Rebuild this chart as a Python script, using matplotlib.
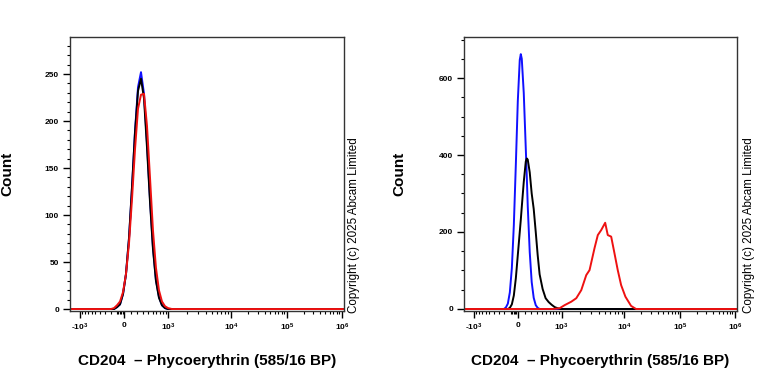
import numpy as np
import matplotlib
matplotlib.use("Agg")
import matplotlib.pyplot as plt
from matplotlib.ticker import FixedLocator, MultipleLocator

plt.rcParams['font.family'] = ['Liberation Sans', 'DejaVu Sans']
plt.rcParams['mathtext.fontset'] = 'custom'
plt.rcParams['mathtext.rm'] = 'Liberation Sans:bold'
plt.rcParams['mathtext.default'] = 'rm'

# ---- data: left panel (isotype / unstained / CD204 overlay) ----
left_x = [-1490, -194, -146, -101, -57, -14, 28, 72, 116, 162, 210, 261, 316,
          375, 440, 510, 588, 675, 772, 879, 1000, 1164, 1.08e6]
left_blue = [0, 0, 0, 2, 5, 16, 37, 75, 129, 189, 236, 252, 229, 177, 117, 66,
             31, 13, 4, 1, 0, 0, 0]
left_black = [0, 0, 0, 2, 5, 16, 37, 76, 130, 188, 232, 245, 224, 172, 114, 64,
              30, 12, 4, 1, 0, 0, 0]
left_red = [0, 0, 1, 4, 8, 18, 37, 70, 117, 170, 213, 228, 229, 195, 140, 84,
            44, 20, 8, 3, 1, 0, 0]

# ---- data: right panel ----
right_x = [-1490, -209, -177, -146, -116, -86, -57, -28, 0, 28, 43, 57, 86, 116,
           131, 146, 177, 209, 243, 279, 315, 353, 416, 485, 562, 645, 739,
           841, 956, 1.08e6]
right_blue = [0, 0, 4, 14, 43, 106, 218, 376, 540, 647, 662, 650, 561, 417,
              345, 267, 148, 70, 29, 10, 3, 0, 0, 0, 0, 0, 0, 0, 0, 0]
right_black = [0, 0, 0, 0, 3, 12, 35, 80, 140, 200, 232, 265, 330, 383, 391,
               388, 355, 300, 260, 200, 140, 90, 52, 28, 18, 11, 5, 2, 0, 0]
red_x = [-1490, 685, 918, 1121, 1441, 1733, 2083, 2500, 2820, 3380, 3810, 4310,
         4980, 5470, 6190, 6970, 7855, 8880, 10420, 13170, 16180, 1.08e6]
right_red = [0, 0, 2, 10, 19, 28, 49, 88, 101, 158, 192, 205, 224, 192, 188,
             145, 101, 62, 32, 8, 0, 0]

xtick_vals = [-1e3, 0, 1e3, 1e4, 1e5, 1e6]
xtick_labels = ['-$10^{3}$', '0', '$10^{3}$', '$10^{4}$', '$10^{5}$', '$10^{6}$']
xlabel = 'CD204  \u2013 Phycoerythrin (585/16 BP)'

# logicle-like axis: piecewise-linear in asinh space
C = 358.0
U_ANCH = np.arcsinh(np.array([-1e12, -1490, -1e3, 0, 1e3, 1e4, 1e5, 1e6, 1.08e6, 1e12]) / C)
P_ANCH = np.array([-460, 70, 80, 124, 168, 231, 287, 342, 344, 671], dtype=float)


def fwd(x):
    return np.interp(np.arcsinh(np.asarray(x, dtype=float) / C), U_ANCH, P_ANCH)


def inv(p):
    return C * np.sinh(np.interp(np.asarray(p, dtype=float), P_ANCH, U_ANCH))


minor = []
for d in [1e4, 1e5, 1e6]:
    minor += [k * d / 10 for k in range(2, 10)]
minor += [k * 100 for k in range(1, 10)] + [-k * 100 for k in range(1, 10)]
minor += [-k * 20 for k in range(1, 5)]

fig = plt.figure(figsize=(7.68, 3.84), dpi=100)
ax1 = fig.add_axes([70 / 768, 1 - 311 / 384, 274 / 768, 274 / 384])
ax2 = fig.add_axes([464 / 768, 1 - 311 / 384, 273 / 768, 274 / 384])

lw = 1.4
ax1.plot(left_x, left_blue, color='#1010ff', lw=lw)
ax1.plot(left_x, left_black, color='black', lw=lw)
ax1.plot(left_x, left_red, color='#ee1111', lw=lw)

ax2.plot(right_x, right_blue, color='#1010ff', lw=lw)
ax2.plot(right_x, right_black, color='black', lw=lw)
ax2.plot(red_x, right_red, color='#ee1111', lw=lw)

ax1.set_ylim(-2.1, 289.4)
ax1.set_yticks([0, 50, 100, 150, 200, 250])
ax1.yaxis.set_minor_locator(MultipleLocator(10))
ax2.set_ylim(-5.2, 706.5)
ax2.set_yticks([0, 200, 400, 600])
ax2.yaxis.set_minor_locator(MultipleLocator(50))

for ax, cx in [(ax1, 354), (ax2, 749)]:
    ax.set_xscale('function', functions=(fwd, inv))
    ax.set_xlim(-1490, 1.08e6)
    ax.set_xticks(xtick_vals)
    ax.set_xticklabels(xtick_labels)
    ax.xaxis.set_minor_locator(FixedLocator(minor))
    ax.tick_params(which='major', direction='out', length=5, width=1.0,
                   labelsize=6, pad=3)
    ax.tick_params(which='minor', direction='out', length=2.5, width=0.8)
    for lab in ax.get_yticklabels() + ax.get_xticklabels():
        lab.set_fontweight('bold')
    for s in ax.spines.values():
        s.set_linewidth(1.0)
        s.set_color('#333333')
    ax.set_xlabel(xlabel, fontsize=11, fontweight='bold', labelpad=15)
    ax.set_ylabel('Count', fontsize=11, fontweight='bold')
    fig.text(cx / 768, 1 - 313 / 384, 'Copyright (c) 2025 Abcam Limited',
             rotation=90, ha='center', va='bottom', fontsize=8.4)

ax1.yaxis.set_label_coords(-56 / 274, 0.5)
ax2.yaxis.set_label_coords(-58 / 273, 0.5)

fig.savefig('out.png', dpi=100)
